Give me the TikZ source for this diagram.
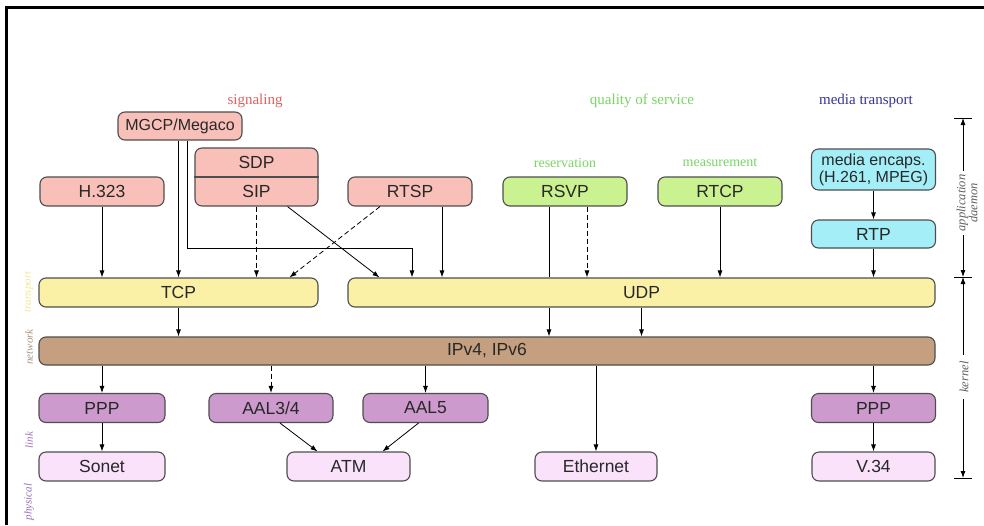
\documentclass[tikz,border=0pt]{standalone}
\usepackage{fontspec}
\setmainfont{Liberation Serif}
\newfontfamily\boxfont{Liberation Sans}
\usetikzlibrary{arrows.meta}
\definecolor{sigfill}{RGB}{248,192,184}
\definecolor{sigtext}{RGB}{222,96,96}
\definecolor{qosfill}{RGB}{202,242,144}
\definecolor{qostext}{RGB}{120,214,100}
\definecolor{medfill}{RGB}{164,238,248}
\definecolor{medtext}{RGB}{52,52,150}
\definecolor{trfill}{RGB}{250,240,166}
\definecolor{ipfill}{RGB}{196,160,128}
\definecolor{lkfill}{RGB}{204,154,204}
\definecolor{phfill}{RGB}{250,226,250}
\definecolor{bordc}{RGB}{78,78,78}
\definecolor{boxtext}{RGB}{40,40,40}
\definecolor{trlab}{RGB}{242,232,150}
\definecolor{nwlab}{RGB}{170,150,130}
\definecolor{lklab}{RGB}{165,115,190}
\definecolor{phlab}{RGB}{150,110,185}
\definecolor{dimlab}{RGB}{95,95,95}
\begin{document}
\begin{tikzpicture}[x=1pt,y=-1pt,
  box/.style={draw=bordc,line width=1.1pt,rounded corners=7pt,inner sep=0pt,
    minimum width=124pt,minimum height=29pt,text=boxtext,
    font=\boxfont\fontsize{17.5}{18}\selectfont},
  bigfont/.style={font=\boxfont\fontsize{16}{17}\selectfont},
  grp/.style={font=\fontsize{15}{16}\selectfont},
  sub/.style={font=\fontsize{14}{15}\selectfont},
  side/.style={rotate=90,font=\itshape\fontsize{11}{12}\selectfont},
  arr/.style={draw=black,line width=0.8pt,-{Latex[length=7pt,width=5pt]}},
  plain/.style={draw=black,line width=0.8pt},
  dimarr/.style={draw=black,line width=0.8pt,{Latex[length=7pt,width=5pt]}-{Latex[length=7pt,width=5pt]}},
  dashline/.style={dash pattern=on 5pt off 3pt}]
\useasboundingbox (0,0) rectangle (984,525);
\fill[white] (0,0) rectangle (984,525);
\draw[line width=3pt] (6,525) -- (6,7) -- (984,7);

% group labels
\node[grp,text=sigtext] (lsig) at (255,101) {signaling};
\node[grp,text=qostext] (lqos) at (642,101) {quality of service};
\node[grp,text=medtext] (lmed) at (866,101) {media transport};
\node[sub,text=qostext] (lres) at (565,163) {reservation};
\node[sub,text=qostext] (lmea) at (720,163) {measurement};

% application boxes
\node[box,bigfont,fill=sigfill,minimum height=28pt] (mgcp) at (180,126) {MGCP/Megaco};
\node[box,fill=sigfill,minimum height=58pt,minimum width=123pt] (sipbox) at (256.5,177) {};
\draw[draw=bordc,line width=1.1pt] (sipbox.west) -- (sipbox.east);
\node[font=\boxfont\fontsize{17.5}{18}\selectfont,text=boxtext] (sdp) at (256.5,162.5) {SDP};
\node[font=\boxfont\fontsize{17.5}{18}\selectfont,text=boxtext] (sip) at (256.5,191.5) {SIP};
\node[box,fill=sigfill] (h323) at (102,191.5) {H.323};
\node[box,fill=sigfill] (rtsp) at (410,191.5) {RTSP};
\node[box,fill=qosfill] (rsvp) at (565,191.5) {RSVP};
\node[box,fill=qosfill] (rtcp) at (720,191.5) {RTCP};
\node[box,bigfont,fill=medfill,minimum height=41pt,align=center] (encaps) at (873.5,169.5) {media encaps.\\(H.261, MPEG)};
\node[box,fill=medfill,minimum height=28pt] (rtp) at (873.5,234) {RTP};

% transport
\node[box,fill=trfill,minimum width=279pt] (tcp) at (178.5,292.5) {TCP};
\node[box,fill=trfill,minimum width=587pt] (udp) at (641.5,292.5) {UDP};
% network
\node[box,fill=ipfill,minimum width=896pt,minimum height=28pt] (ip) at (487,351) {IPv4, IPv6};
% link
\node[box,fill=lkfill,minimum width=126pt] (ppp1) at (102,408) {PPP};
\node[box,fill=lkfill] (aal34) at (271,408) {AAL3/4};
\node[box,fill=lkfill,minimum width=125pt] (aal5) at (425.5,408) {AAL5};
\node[box,fill=lkfill] (ppp2) at (873.5,408) {PPP};
% physical
\node[box,fill=phfill,minimum width=126pt] (sonet) at (102,466.5) {Sonet};
\node[box,fill=phfill,minimum width=123pt] (atm) at (348.5,466.5) {ATM};
\node[box,fill=phfill,minimum width=122pt] (eth) at (596,466.5) {Ethernet};
\node[box,fill=phfill,minimum width=123pt] (v34) at (873.5,466.5) {V.34};

% RSVP goes directly over IP (passing behind UDP)
\draw[plain] ([xshift=-16pt]rsvp.south) -- ([xshift=-16pt]rsvp.south |- udp.north);
\draw[arr] ([xshift=-16pt]rsvp.south |- udp.south) -- ([xshift=-16pt]rsvp.south |- ip.north);

% connectors to transport
\draw[arr] (h323.south) -- (h323.south |- tcp.north);
\draw[arr] (mgcp.south -| tcp.north) -- (tcp.north);
\coordinate (mgcpturn) at (412,248);
\draw[arr] ([xshift=7pt]mgcp.south) |- (mgcpturn) -- (mgcpturn |- udp.north);
\draw[arr,dashline] (sipbox.south) -- (sipbox.south |- tcp.north);
\draw[arr] ([xshift=31pt]sipbox.south) -- ([xshift=-262pt]udp.north);
\draw[arr,dashline] ([xshift=-30pt]rtsp.south) -- ([xshift=111pt]tcp.north);
\draw[arr] ([xshift=32pt]rtsp.south) -- ([xshift=32pt]rtsp.south |- udp.north);
\draw[arr,dashline] ([xshift=22pt]rsvp.south) -- ([xshift=22pt]rsvp.south |- udp.north);
\draw[arr] (rtcp.south) -- (rtcp.south |- udp.north);
\draw[arr] (encaps.south) -- (rtp.north);
\draw[arr] (rtp.south) -- (rtp.south |- udp.north);

% transport to network
\draw[arr] (tcp.south) -- (tcp.south |- ip.north);
\draw[arr] (udp.south) -- (udp.south |- ip.north);

% network to link / physical
\draw[arr] (ppp1.north |- ip.south) -- (ppp1.north);
\draw[arr,dashline] (aal34.north |- ip.south) -- (aal34.north);
\draw[arr] (aal5.north |- ip.south) -- (aal5.north);
\draw[arr] (eth.north |- ip.south) -- (eth.north);
\draw[arr] (ppp2.north |- ip.south) -- (ppp2.north);

% link to physical
\draw[arr] (ppp1.south) -- (sonet.north);
\draw[arr] (ppp2.south) -- (v34.north);
\draw[arr] ([xshift=9pt]aal34.south) -- ([xshift=-31pt]atm.north);
\draw[arr] ([xshift=-7pt]aal5.south) -- ([xshift=34pt]atm.north);

% left layer labels
\node[side,text=trlab] (ltr) at (29,292) {transport};
\node[side,text=nwlab] (lnw) at (29,347) {network};
\node[side,text=lklab] (llk) at (29,440) {link};
\node[side,text=phlab] (lph) at (29,502) {physical};

% right dimension
\coordinate (dtop) at (963,118);
\coordinate (dmid) at (963,277);
\coordinate (dbot) at (963,478);
\draw[line width=0.8pt] ([xshift=-9pt]dtop) -- ([xshift=9pt]dtop);
\draw[line width=0.8pt] ([xshift=-9pt]dmid) -- ([xshift=9pt]dmid);
\draw[line width=0.8pt] ([xshift=-9pt]dbot) -- ([xshift=9pt]dbot);
\draw[dimarr] (dtop) -- (dmid);
\draw[dimarr] (dmid) -- (dbot);
\node[side,text=dimlab,fill=white,inner sep=4pt,align=center,font=\itshape\fontsize{12.5}{12}\selectfont] (lapp) at (967,203) {application\\daemon};
\node[side,text=dimlab,fill=white,inner sep=6pt,font=\itshape\fontsize{12.5}{13}\selectfont] (lker) at (964,377) {kernel};
\end{tikzpicture}
\end{document}
